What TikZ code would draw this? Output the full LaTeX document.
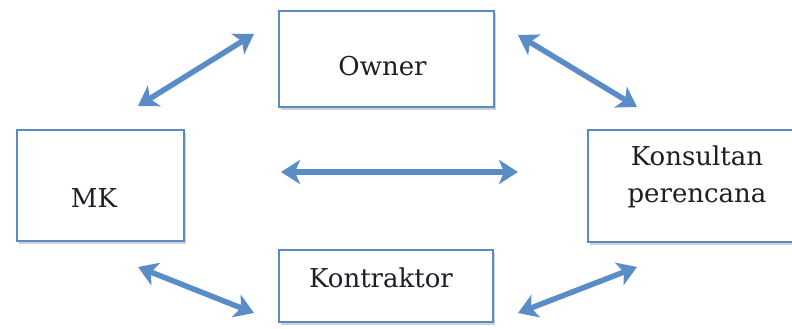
\documentclass[tikz,border=0pt]{standalone}
\usepackage{fontspec}
\setmainfont{DejaVu Serif}
\usetikzlibrary{arrows.meta,shadows}
\definecolor{boxblue}{HTML}{5B8BC6}
\definecolor{arrowblue}{HTML}{5A8DC8}
\definecolor{labelink}{HTML}{1E1E28}
\begin{document}
\begin{tikzpicture}[x=1pt,y=-1pt,
  party/.style={draw=boxblue, line width=2.2pt, fill=white, inner sep=0pt,
    drop shadow={shadow xshift=1.5pt, shadow yshift=-2.5pt, opacity=0.18, fill=black}},
  partylabel/.style={anchor=base, text=labelink, inner sep=0pt,
    font=\fontsize{26}{37}\selectfont, align=center},
  link/.style={draw=arrowblue, line width=5.5pt,
    {Stealth[length=19pt,width=24pt,inset=5pt]}-{Stealth[length=19pt,width=24pt,inset=5pt]}}]
  \useasboundingbox (0,0) rectangle (792,329);

  % the four parties
  \node[party, minimum width=215pt, minimum height=96pt]  (owner) at (386.5,59) {};
  \node[party, minimum width=167pt, minimum height=111pt] (mk)    at (100.5,185.5) {};
  \node[party, minimum width=218pt, minimum height=112pt] (kons)  at (697,186) {};
  \node[party, minimum width=214pt, minimum height=72pt]  (kontr) at (386,286) {};

  % their names
  \node[partylabel] (ownerT) at (382.5,75) {Owner};
  \node[partylabel] (mkT)    at (94,207) {MK};
  \node[partylabel] (kontrT) at (381,287) {Kontraktor};
  \node[partylabel, anchor=north] (konsT) at (697,146) {Konsultan\\perencana};

  % free-standing ends of the two-way links
  \coordinate (mkNE)    at (138,106);
  \coordinate (ownerSW) at (254,34);
  \coordinate (ownerSE) at (518,35);
  \coordinate (konsNW)  at (637,107);
  \coordinate (midL)    at (281,172);
  \coordinate (midR)    at (518,172);
  \coordinate (mkSE)    at (138,267);
  \coordinate (kontrW)  at (254,313);
  \coordinate (kontrE)  at (518,313);
  \coordinate (konsSW)  at (637,267);

  % two-way links
  \draw[link] (mkNE) -- (ownerSW);
  \draw[link] (ownerSE) -- (konsNW);
  \draw[link] (midL) -- (midR);
  \draw[link] (mkSE) -- (kontrW);
  \draw[link] (kontrE) -- (konsSW);
\end{tikzpicture}
\end{document}
